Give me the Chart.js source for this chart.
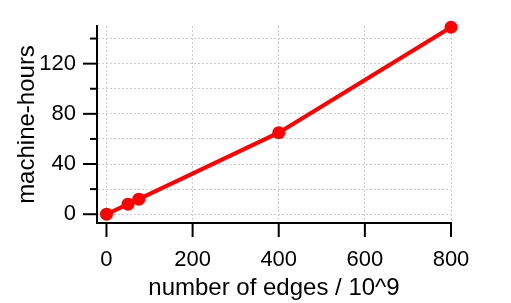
<!DOCTYPE html>
<html>
<head>
<meta charset="utf-8">
<script src="https://cdn.jsdelivr.net/npm/chart.js@4"></script>
<style>
  html, body { margin: 0; padding: 0; background: #fff; }
  #wrap { width: 511px; height: 303px; }
</style>
</head>
<body>
<div id="wrap"><canvas id="chart"></canvas></div>
<script>
const edges = [0, 50, 75, 400, 800];
const hours = [0, 8, 12, 65, 149];
const xTicks = [0, 200, 400, 600, 800];
const yTicks = [0, 20, 40, 60, 80, 100, 120, 140];
const yLabelTicks = [0, 40, 80, 120];

const FONT = 'Liberation Sans, Arial, Helvetica, sans-serif';

// outward tick marks, long on labelled ticks, short on the others
const tickMarks = {
    id: 'tickMarks',
    afterDraw(chart) {
        const { ctx, scales: { x, y }, chartArea } = chart;
        ctx.save();
        ctx.strokeStyle = '#000';
        ctx.lineWidth = 2;
        x.ticks.forEach(t => {
            const px = x.getPixelForValue(t.value);
            ctx.beginPath();
            ctx.moveTo(px, chartArea.bottom);
            ctx.lineTo(px, chartArea.bottom + 14);
            ctx.stroke();
        });
        y.ticks.forEach(t => {
            const py = y.getPixelForValue(t.value);
            const len = yLabelTicks.includes(t.value) ? 14 : 7;
            ctx.beginPath();
            ctx.moveTo(chartArea.left, py);
            ctx.lineTo(chartArea.left - len, py);
            ctx.stroke();
        });
        ctx.restore();
    }
};

const ctx = document.getElementById('chart').getContext('2d');
new Chart(ctx, {
    type: 'scatter',
    data: {
        datasets: [{
            data: edges.map((e, i) => ({ x: e, y: hours[i] })),
            showLine: true,
            clip: false,
            borderColor: '#ff0000',
            backgroundColor: '#ff0000',
            borderWidth: 4,
            pointRadius: 6.5,
            pointHoverRadius: 6.5,
            pointBorderWidth: 0
        }]
    },
    options: {
        responsive: true,
        maintainAspectRatio: false,
        animation: false,
        layout: {
            padding: { top: 26, right: 60, left: 0, bottom: 0 }
        },
        plugins: {
            legend: { display: false },
            tooltip: { enabled: false }
        },
        scales: {
            x: {
                type: 'linear',
                min: -22,
                max: 800,
                afterFit: (scale) => {
                    scale.height = 80;
                    scale.paddingLeft = 0;
                    scale.paddingRight = 0;
                },
                afterBuildTicks: (scale) => { scale.ticks = xTicks.map(v => ({ value: v })); },
                grid: {
                    color: '#cccccc',
                    drawTicks: false,
                    lineWidth: 1
                },
                border: { color: '#000', width: 2, dash: [2, 2] },
                ticks: {
                    padding: 24,
                    color: '#000',
                    font: { family: FONT, size: 22 },
                    maxRotation: 0,
                    autoSkip: false
                },
                title: {
                    display: true,
                    text: 'number of edges / 10^9',
                    color: '#000',
                    font: { family: FONT, size: 24 },
                    padding: { top: 3, bottom: 0 }
                }
            },
            y: {
                type: 'linear',
                min: -7,
                max: 150,
                afterFit: (scale) => {
                    scale.width = 97;
                    scale.paddingTop = 0;
                    scale.paddingBottom = 0;
                },
                afterBuildTicks: (scale) => { scale.ticks = yTicks.map(v => ({ value: v })); },
                grid: {
                    color: '#cccccc',
                    drawTicks: false,
                    lineWidth: 1
                },
                border: { color: '#000', width: 2, dash: [2, 2] },
                ticks: {
                    padding: 21,
                    color: '#000',
                    font: { family: FONT, size: 22 },
                    autoSkip: false,
                    callback: (v) => yLabelTicks.includes(v) ? String(v) : ''
                },
                title: {
                    display: true,
                    text: 'machine-hours',
                    color: '#000',
                    font: { family: FONT, size: 24 },
                    padding: { top: 13, bottom: 0 }
                }
            }
        }
    },
    plugins: [tickMarks]
});
</script>
</body>
</html>
